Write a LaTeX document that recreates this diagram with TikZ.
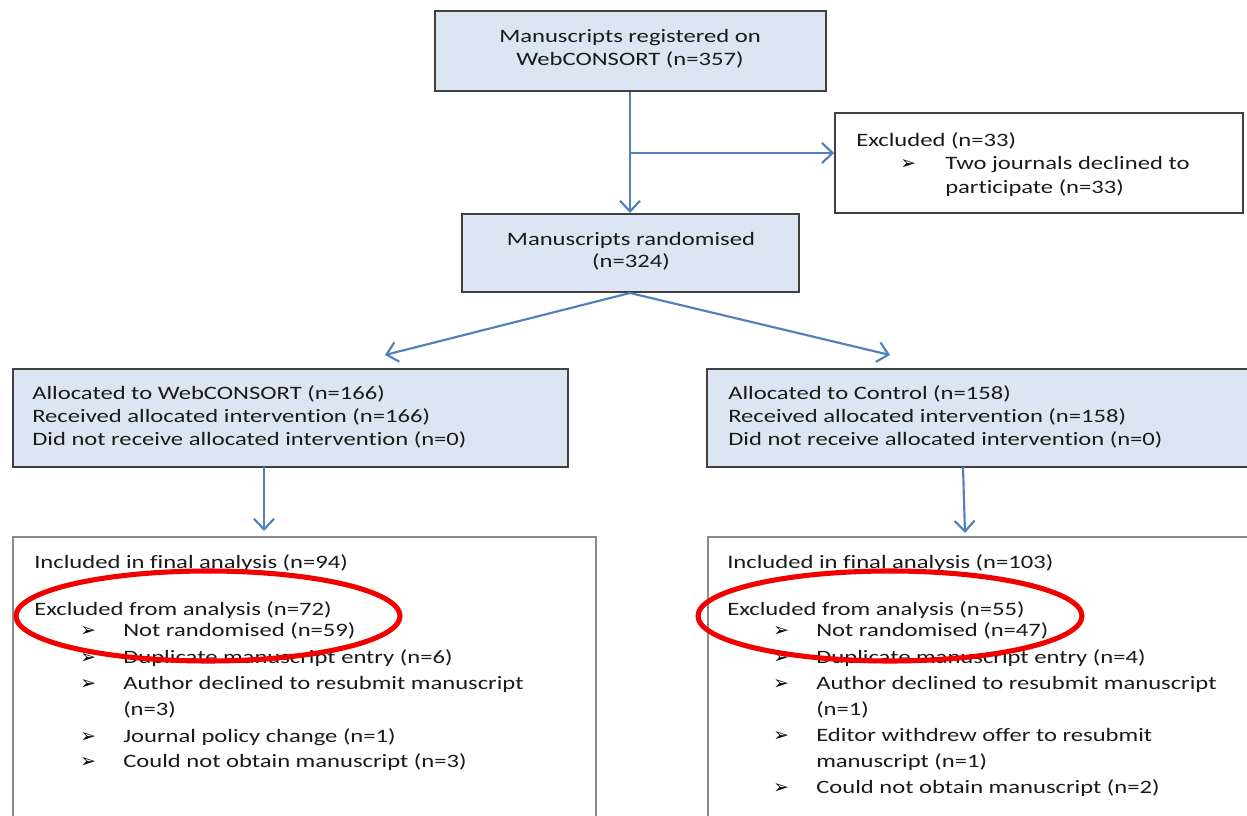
\documentclass[tikz,border=0pt]{standalone}
\usepackage{fontspec}
\setmainfont{Carlito}[FakeStretch=1.3,RawFeature={-liga;-clig;-calt}]
\newfontfamily\symfont{DejaVu Sans}
\usetikzlibrary{arrows.meta,fit}
\definecolor{boxfill}{HTML}{DCE6F2}
\definecolor{boxline}{HTML}{404040}
\definecolor{greyline}{HTML}{8A8A8A}
\definecolor{arrowblue}{HTML}{4F81BD}
\definecolor{ink}{HTML}{1A1A1A}
\definecolor{ovalred}{HTML}{F00000}
\begin{document}
\begin{tikzpicture}[x=0.75pt,y=-0.75pt,
  bluebox/.style={draw=boxline, fill=boxfill, line width=1.5pt, inner sep=0pt},
  whitebox/.style={draw=boxline, fill=white, line width=1.2pt, inner sep=0pt},
  greybox/.style={draw=greyline, fill=white, line width=1.5pt, inner sep=0pt},
  txt/.style={inner sep=0pt, text=ink, font=\fontsize{14.2}{17.25}\selectfont},
  bul/.style={inner sep=0pt, text=black, anchor=base west, font=\symfont\fontsize{14}{15}\selectfont},
  flow/.style={draw=arrowblue, line width=1.6pt, -{Straight Barb[length=8pt,width=15pt]}},
  oval/.style={draw=ovalred, line width=3.8pt}
]
\useasboundingbox (0,0) rectangle (1247,816);
\clip (0,0) rectangle (1247,816);
\fill[white] (0,0) rectangle (1247,816);

% boxes
\node[bluebox, fit={(435,11) (826,91)}] (reg) {};
\node[whitebox, fit={(835,113) (1243,213)}] (excl) {};
\node[bluebox, fit={(462,214) (799,292)}] (rand) {};
\node[bluebox, fit={(13,369) (568,467)}] (allocL) {};
\node[bluebox, fit={(707,369) (1265,467)}] (allocR) {};
\node[greybox, fit={(13,537) (596,840)}] (finL) {};
\node[greybox, fit={(708,537) (1265,840)}] (finR) {};

% texts: registered / randomised
\node[txt, anchor=base] (regA) at (630,43) {Manuscripts registered on};
\node[txt, anchor=base] (regB) at (630,66) {WebCONSORT (n=357)};
\node[txt, anchor=base] (randA) at (631,246) {Manuscripts randomised};
\node[txt, anchor=base] (randB) at (631,268) {(n=324)};

% excluded
\node[txt, anchor=base west] (exA) at (856,147) {Excluded (n=33)};
\node[bul] (exB0) at (900,170) {➢};
\node[txt, anchor=base west] (exB) at (945,170) {Two journals declined to};
\node[txt, anchor=base west] (exC) at (945,194) {participate (n=33)};

% allocated
\node[txt, anchor=base west] (alA) at (32,400) {Allocated to WebCONSORT (n=166)};
\node[txt, anchor=base west] (alB) at (32,423) {Received allocated intervention (n=166)};
\node[txt, anchor=base west] (alC) at (32,446) {Did not receive allocated intervention (n=0)};
\node[txt, anchor=base west] (arA) at (728,400) {Allocated to Control (n=158)};
\node[txt, anchor=base west] (arB) at (728,423) {Received allocated intervention (n=158)};
\node[txt, anchor=base west] (arC) at (728,446) {Did not receive allocated intervention (n=0)};

% final left
\node[txt, anchor=base west] (flA) at (34,569) {Included in final analysis (n=94)};
\node[txt, anchor=base west] (flB) at (34,615) {Excluded from analysis (n=72)};
\foreach \y/\t [count=\i] in {637/Not randomised (n=59), 663/Duplicate manuscript entry (n=6),
    689/Author declined to resubmit manuscript, 742/Journal policy change (n=1),
    767/Could not obtain manuscript (n=3)}{
  \node[bul] (flb\i) at (80,\y) {➢};
  \node[txt, anchor=base west] (flt\i) at (123,\y) {\t};
}
\node[txt, anchor=base west] (flc) at (123,715) {(n=3)};

% final right
\node[txt, anchor=base west] (frA) at (727,569) {Included in final analysis (n=103)};
\node[txt, anchor=base west] (frB) at (727,615) {Excluded from analysis (n=55)};
\foreach \y/\t [count=\i] in {637/Not randomised (n=47), 663/Duplicate manuscript entry (n=4),
    689/Author declined to resubmit manuscript, 741/Editor withdrew offer to resubmit,
    793/Could not obtain manuscript (n=2)}{
  \node[bul] (frb\i) at (773,\y) {➢};
  \node[txt, anchor=base west] (frt\i) at (816,\y) {\t};
}
\node[txt, anchor=base west] (frc) at (816,715) {(n=1)};
\node[txt, anchor=base west] (frd) at (816,767) {manuscript (n=1)};

% connectors
\coordinate (br) at (630,153);
\coordinate (splitL) at (385,355);
\coordinate (splitR) at (890,355);
\coordinate (aLtop) at (264,467);
\coordinate (aLend) at (264,531);
\coordinate (aRtop) at (963,467);
\coordinate (aRend) at (965,533);
\draw[flow] (reg.south -| br) -- (rand.north -| br);
\draw[flow] (br) -- (br -| excl.west);
\draw[flow] (rand.south -| br) -- (splitL);
\draw[flow] (rand.south -| br) -- (splitR);
\draw[flow] (aLtop) -- (aLend);
\draw[flow] (aRtop) -- (aRend);

% red ovals
\draw[oval] (208,616) ellipse [x radius=192, y radius=45];
\draw[oval] (890,616) ellipse [x radius=192, y radius=45];
\end{tikzpicture}
\end{document}
